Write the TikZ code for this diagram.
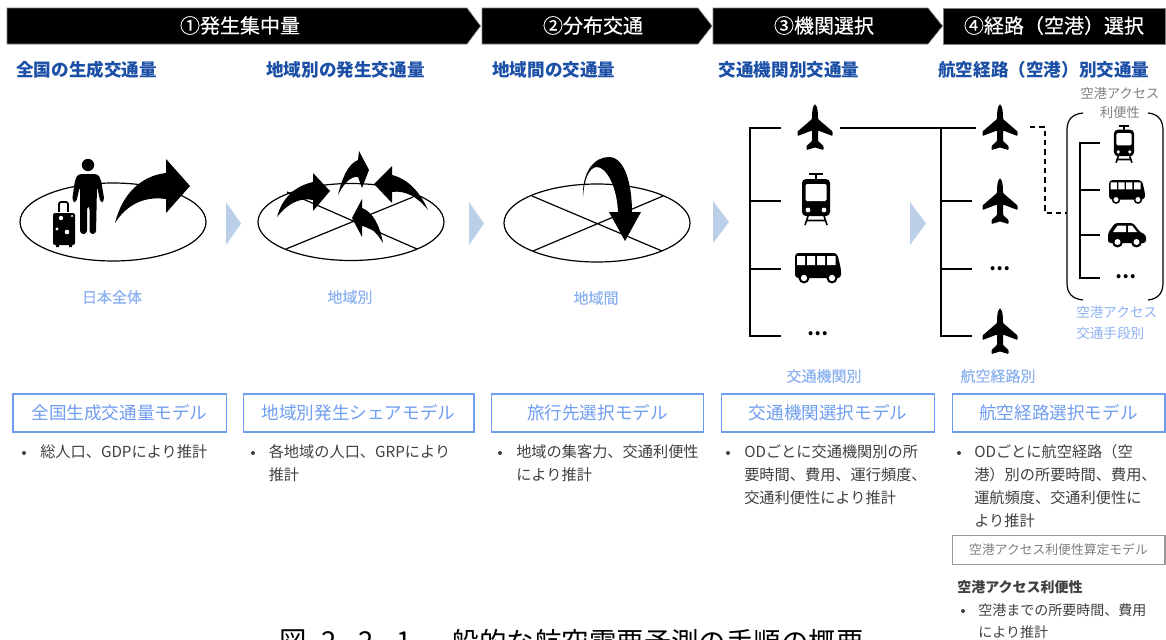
\documentclass[tikz,border=0pt]{standalone}
\usepackage{fontspec}
\setmainfont{Noto Sans CJK JP}
\definecolor{headblue}{HTML}{1C4FA6}
\definecolor{paleblue}{HTML}{8DB2F2}
\definecolor{modelblue}{HTML}{6F9DF0}
\definecolor{flowblue}{HTML}{BCCFE9}
\definecolor{bodygrey}{HTML}{404040}
\definecolor{midgrey}{HTML}{7F7F7F}
\newcommand{\fs}[1]{\fontsize{#1}{#1}\selectfont}
\newcommand{\medw}{\addfontfeature{FakeBold=0.25}}
\tikzset{
  x=0.75pt,y=-0.75pt,
  band/.style={fill=black,draw=midgrey,line width=0.4pt},
  bandtext/.style={text=white,font=\fs{15}\medw,inner sep=0pt},
  heading/.style={text=headblue,font=\fs{13.2}\bfseries,anchor=west,inner sep=0pt},
  scopelabel/.style={text=paleblue,font=\fs{11.25}\medw,inner sep=0pt},
  modelbox/.style={draw=modelblue,line width=1pt,text=modelblue,font=\fs{13.2},inner sep=0pt,minimum height=28.5pt},
  notes/.style={text=bodygrey,font=\fs{11.4},anchor=north west,inner sep=0pt,align=left},
  notesmall/.style={text=bodygrey,font=\fs{10.5},anchor=north west,inner sep=0pt,align=left},
  bulletmark/.style={circle,fill=bodygrey,inner sep=0pt,minimum size=3pt},
  region/.style={draw=black,line width=0.9pt},
  tree/.style={draw=black,line width=0.9pt},
  moredots/.style={inner sep=0pt,font=\fs{14}\bfseries},
  plane/.pic={
    \fill[rounded corners=0.6pt] (0,-23) .. controls (2,-22) and (3,-18) .. (3,-9) -- (17.5,3.5) -- (17.5,8) -- (3,2.5)
      -- (3,13) -- (8.5,18) -- (8.5,22) -- (0,19.5) -- (-8.5,22) -- (-8.5,18) -- (-3,13) -- (-3,2.5) -- (-17.5,8) -- (-17.5,3.5) -- (-3,-9)
      .. controls (-3,-18) and (-2,-22) .. (0,-23) -- cycle;
  },
  train/.pic={
    \draw[line width=1.2pt] (-7,-25) -- (7,-25) (0,-25) -- (0,-19);
    \fill[rounded corners=3pt] (-14,-20) rectangle (14,17);
    \fill[white,rounded corners=1pt] (-10.5,-15) rectangle (10.5,2);
    \fill[white] (-8,11) circle (2.4) (8,11) circle (2.4);
    \draw[line width=1.2pt] (-8,17) -- (-11,26) (8,17) -- (11,26) (-9.5,21.5) -- (9.5,21.5);
  },
  bus/.pic={
    \fill[rounded corners=2.5pt] (-23,-14) -- (19,-14) -- (23,2) -- (23,11) -- (-23,11) -- cycle;
    \fill[white] (-21,-11) rectangle (-13,-2) (-11,-11) rectangle (-3,-2) (-1,-11) rectangle (7,-2) (9,-11) rectangle (17.5,-2);
    \fill (-14,11) circle (5.5) (14,11) circle (5.5);
    \fill[white] (-14,11) circle (3.2) (14,11) circle (3.2);
  },
  car/.pic={
    \fill[rounded corners=2pt] (-19,9) -- (-19,-1) -- (-12,-11) -- (6,-11) -- (13,-2) -- (19,1) -- (19,9) -- cycle;
    \fill[white] (-9.5,-8.5) -- (-1,-8.5) -- (-1,-2) -- (-14,-2) -- cycle (1,-8.5) -- (5,-8.5) -- (10,-2) -- (1,-2) -- cycle;
    \fill (-9.5,8) circle (5.5) (9.5,8) circle (5.5);
    \fill[white] (-9.5,8) circle (3) (9.5,8) circle (3);
  },
  traveller/.pic={
    % standing figure
    \fill (88,165) circle (6.2);
    \fill[rounded corners=2.5pt] (78,174) -- (98,174) -- (101,180) -- (104.5,201) -- (100.5,203) -- (97,186) -- (96,234) -- (89.5,234) -- (89.5,206) -- (87,206) -- (87,234) -- (80,234) -- (80,186) -- (76,203) -- (72,201) -- (75,180) -- cycle;
    % suitcase
    \draw[line width=1.3pt,rounded corners=1.5pt] (59,214) -- (59,202) -- (68,202) -- (68,214);
    \fill[white] (51,212) rectangle (77,248);
    \fill[rounded corners=1.5pt] (53,213) rectangle (75,245);
    \fill (56,245) rectangle (59,247) (69,245) rectangle (72,247);
    \fill[white] (61,218) circle (2.2) (57,229) circle (1.7) (67,232) circle (2.3) (72,216) circle (1.2);
  }
}
\begin{document}
\begin{tikzpicture}
\useasboundingbox (0,0) rectangle (1166,639);
\clip (0,0) rectangle (1166,639);
\fill[white] (0,0) rectangle (1166,639);

% process bands
\draw[band] (7,8) -- (467,8) -- (480.5,26) -- (467,44) -- (7,44) -- cycle;
\draw[band] (482,8) -- (698,8) -- (712,26) -- (698,44) -- (482,44) -- cycle;
\draw[band] (713,8) -- (928,8) -- (942.5,26) -- (928,44) -- (713,44) -- cycle;
\draw[band] (943,8) -- (1165,8) -- (1165,44) -- (943,44) -- cycle;
\node[bandtext] (b1) at (240,25.5) {①発生集中量};
\node[bandtext] (b2) at (593,25.5) {②分布交通};
\node[bandtext] (b3) at (824,25.5) {③機関選択};
\node[bandtext] (b4) at (1054,25.5) {④経路（空港）選択};

% column headings
\node[heading] (h1) at (16,69.5) {全国の生成交通量};
\node[heading] (h2) at (266,69.5) {地域別の発生交通量};
\node[heading] (h3) at (492,69.5) {地域間の交通量};
\node[heading] (h4) at (718.5,69.5) {交通機関別交通量};
\node[heading] (h5) at (938,69.5) {航空経路（空港）別交通量};

% regions
\draw[region] (113,222) ellipse [x radius=93, y radius=39];
\draw[region] (351,222) ellipse [x radius=93, y radius=38.5];
\draw[region] (287,192) -- (417,249) (286,249) -- (413,197);
\draw[region] (597,223) ellipse [x radius=93, y radius=39];
\draw[region] (532,196) -- (662,251) (533,251) -- (663,196);

% traveller and trip arrows
\pic {traveller};
\fill (115,223) .. controls (122,195) and (140,176) .. (166,173) -- (166,159) -- (190,186) -- (166,213) -- (166,199)
  .. controls (145,196) and (127,204) .. (115,223) -- cycle;
\fill (277,217) .. controls (282,198) and (295,186) .. (313,182) -- (313,173) -- (330,191) -- (313,211) -- (313,200)
  .. controls (300,197) and (287,204) .. (277,217) -- cycle;
\fill (338,195) .. controls (342,178) and (348,164) .. (358,160) -- (359,151) -- (369,170) -- (362,188) -- (358,177)
  .. controls (351,176) and (344,183) .. (338,195) -- cycle;
\fill (428,210) .. controls (420,192) and (408,179) .. (392,175) -- (392,166) -- (374,184) -- (392,203) -- (392,192)
  .. controls (405,190) and (418,197) .. (428,210) -- cycle;
\fill (383,243) .. controls (380,226) and (373,212) .. (362,208) -- (362,199) -- (352,218) -- (362,237) -- (362,226)
  .. controls (369,225) and (377,233) .. (383,243) -- cycle;
\fill (583,197) .. controls (582,172) and (594,157) .. (609,157) .. controls (625,157) and (632,185) .. (632,212)
  -- (641,212) -- (625,241) -- (609,212) -- (618,212) .. controls (617,186) and (606,167) .. (597,167)
  .. controls (589,167) and (584,180) .. (583,197) -- cycle;

% flow marks between columns
\fill[flowblue] (226,202) -- (241,223.5) -- (226,245) -- cycle;
\fill[flowblue] (469,202) -- (484,223.5) -- (469,245) -- cycle;
\fill[flowblue] (713,201) -- (729,222) -- (713,243) -- cycle;
\fill[flowblue] (910,202) -- (926,223.5) -- (910,245) -- cycle;

% scope labels
\node[scopelabel] (s1) at (112,297) {日本全体};
\node[scopelabel] (s2) at (350,297) {地域別};
\node[scopelabel] (s3) at (596,298) {地域間};
\node[scopelabel] (s4) at (824,376) {交通機関別};
\node[scopelabel] (s5) at (998,376) {航空経路別};

% mode tree
\coordinate (mtop) at (750,128);
\coordinate (mbot) at (750,336);
\coordinate (mplane) at (781,128);
\coordinate (mrail) at (781,201);
\coordinate (mrailj) at (750,201);
\coordinate (mbus) at (781,269);
\coordinate (mbusj) at (750,269);
\coordinate (mmore) at (781,336);
\draw[tree] (mplane) -- (mtop) -- (mbot) -- (mmore);
\draw[tree] (mrailj) -- (mrail);
\draw[tree] (mbusj) -- (mbus);
\pic at (815,128) {plane};
\pic at (816,199) {train};
\pic at (818,267) {bus};
\node[moredots] (mdots) at (818,334) {…};

% route tree
\coordinate (mout) at (840,128);
\coordinate (rplane) at (976,128);
\coordinate (rtop) at (941,128);
\coordinate (rbot) at (941,336);
\coordinate (r2) at (972,201);
\coordinate (r2j) at (941,201);
\coordinate (r3) at (972,269);
\coordinate (r3j) at (941,269);
\coordinate (r4) at (972,336);
\draw[tree] (mout) -- (rplane);
\draw[tree] (rtop) -- (rbot) -- (r4);
\draw[tree] (r2j) -- (r2);
\draw[tree] (r3j) -- (r3);
\pic at (1000,128) {plane};
\pic at (1000,202) {plane};
\node[moredots] (rdots) at (1000,269) {…};
\pic at (1000,332) {plane};

% access link
\coordinate (d1) at (1030,127);
\coordinate (d2) at (1045,127);
\coordinate (d3) at (1045,213);
\coordinate (d4) at (1067,213);
\draw[black,line width=0.9pt,dash pattern=on 4pt off 3pt] (d1) -- (d2) -- (d3) -- (d4);

% access bracket
\draw[black,line width=0.9pt] (1083,113) .. controls (1072,114) and (1067,120) .. (1067,130) -- (1067,283) .. controls (1067,293) and (1072,299) .. (1083,300);
\draw[black,line width=0.9pt] (1148,113) .. controls (1158,114) and (1163,120) .. (1163,130) -- (1163,283) .. controls (1163,293) and (1158,299) .. (1148,300);

% access tree
\coordinate (atop) at (1080,143);
\coordinate (abot) at (1080,278);
\coordinate (a1) at (1100,143);
\coordinate (a2) at (1100,190);
\coordinate (a2j) at (1080,190);
\coordinate (a3) at (1100,235);
\coordinate (a3j) at (1080,235);
\coordinate (a4) at (1100,278);
\draw[tree] (a1) -- (atop) -- (abot) -- (a4);
\draw[tree] (a2j) -- (a2);
\draw[tree] (a3j) -- (a3);
\pic[scale=0.72] at (1124,144) {train};
\pic[scale=0.78] at (1127,191) {bus};
\pic at (1127,234) {car};
\node[moredots] (adots) at (1126,277) {…};

\node[text=midgrey,font=\fs{9.9},inner sep=0pt,align=center] (al1) at (1120,93) {空港アクセス};
\node[text=midgrey,font=\fs{9.9},inner sep=0pt,align=center] (al2) at (1120,113) {利便性};
\node[text=paleblue,font=\fs{10.2},inner sep=0pt,anchor=west] (am1) at (1076,312) {空港アクセス};
\node[text=paleblue,font=\fs{10.2},inner sep=0pt,anchor=west] (am2) at (1076,333) {交通手段別};

% model boxes
\node[modelbox,minimum width=160pt] (m1) at (119.5,413) {全国生成交通量モデル};
\node[modelbox,minimum width=173pt] (m2) at (358.5,413) {地域別発生シェアモデル};
\node[modelbox,minimum width=159pt] (m3) at (597.5,413) {旅行先選択モデル};
\node[modelbox,minimum width=160pt] (m4) at (828,413) {交通機関選択モデル};
\node[modelbox,minimum width=159.5pt] (m5) at (1058.5,413) {航空経路選択モデル};

% model notes
\node[bulletmark] (p1) at (24,453) {};
\node[notes] (n1) at (40,444) {総人口、GDPにより推計};
\node[bulletmark] (p2) at (253,453) {};
\node[notes] (n2) at (268.5,444) {各地域の人口、GRPにより\\[6pt]推計};
\node[bulletmark] (p3) at (500,453) {};
\node[notes] (n3) at (516,444) {地域の集客力、交通利便性\\[6pt]により推計};
\node[bulletmark] (p4) at (728,453) {};
\node[notes] (n4) at (744,444) {ODごとに交通機関別の所\\[6pt]要時間、費用、運行頻度、\\[6pt]交通利便性により推計};
\node[bulletmark] (p5) at (959,453) {};
\node[notes] (n5) at (974,444) {ODごとに航空経路（空\\[6pt]港）別の所要時間、費用、\\[6pt]運航頻度、交通利便性に\\[6pt]より推計};

% access model
\node[draw=midgrey!80,line width=1pt,text=midgrey,font=\fs{9.6},inner sep=0pt,minimum width=159.5pt,minimum height=22pt] (g1) at (1058.5,550) {空港アクセス利便性算定モデル};
\node[text=bodygrey,font=\fs{10.5}\bfseries,inner sep=0pt,anchor=west] (g2) at (957,587) {空港アクセス利便性};
\node[bulletmark] (p6) at (963,611) {};
\node[notesmall] (n6) at (978,603) {空港までの所要時間、費用\\[6.3pt]により推計};

% figure caption, running past the lower edge of the page
\node[text=black,font=\fs{20.6},inner sep=0pt,anchor=west] (capno) at (279,642) {図\hspace{11pt}2\kern5.5pt.\kern5.5pt2\kern5.5pt.\kern5.5pt1};
\node[text=black,font=\fs{20.6},inner sep=0pt,anchor=west] (captxt) at (424,642) {一般的な航空需要予測の手順の概要};
\end{tikzpicture}
\end{document}
